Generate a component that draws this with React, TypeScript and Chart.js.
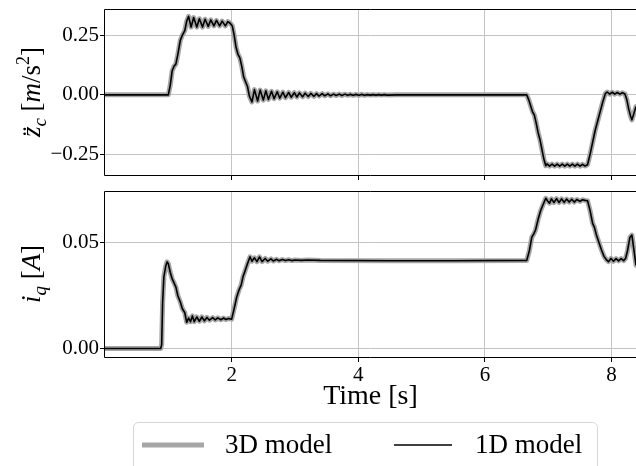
import React, { useEffect, useRef } from 'react';
import { Chart, registerables } from 'chart.js';

Chart.register(...registerables);

// ---------- data ----------
const seriesNames = ['3D model', '1D model'];

const xTicks = [2, 4, 6, 8];
const xTickLabels = ['2', '4', '6', '8'];
const xMin = 0;
const xMax = 8.385;

const zTicks = [-0.25, 0, 0.25];
const zTickLabels = ['\u22120.25', '0.00', '0.25'];
const zMin = -0.337;
const zMax = 0.361;

const iTicks = [0, 0.05];
const iTickLabels = ['0.00', '0.05'];
const iMin = -0.0038;
const iMax = 0.0742;

// top panel: vertical acceleration [m/s^2]
const tZ = [
  0.0, 0.5, 1.0, 1.03, 1.06, 1.09, 1.12, 1.15, 1.19, 1.22, 1.26, 1.29, 1.32,
  1.36, 1.4, 1.45, 1.49, 1.54, 1.58, 1.63, 1.67, 1.72, 1.76, 1.81, 1.85, 1.9, 1.94, 1.98,
  2.01, 2.04, 2.07, 2.1, 2.13, 2.16, 2.19, 2.22, 2.25, 2.28, 2.32,
  2.36, 2.41, 2.45, 2.5, 2.54, 2.58, 2.63, 2.67, 2.72, 2.76, 2.81, 2.85, 2.9, 2.94, 2.99,
  3.03, 3.07, 3.12, 3.16, 3.21, 3.25, 3.3, 3.34, 3.38, 3.43, 3.47, 3.52, 3.56, 3.61, 3.65,
  3.7, 3.74, 3.79, 3.83, 3.87, 3.92, 3.96, 4.01, 4.05, 4.1, 4.14, 4.19, 4.23, 4.28, 4.32,
  4.37, 4.41, 4.46, 4.6, 5.5, 6.66,
  6.69, 6.72, 6.75, 6.78, 6.81, 6.84, 6.87, 6.9, 6.93, 6.96, 6.98,
  7.02, 7.06, 7.1, 7.14, 7.18, 7.22, 7.26, 7.3, 7.34, 7.38, 7.42, 7.46, 7.5, 7.54, 7.58, 7.62,
  7.66, 7.7, 7.74, 7.78, 7.82, 7.86, 7.9, 7.93, 7.97, 8.01, 8.05, 8.09, 8.13, 8.17, 8.21,
  8.24, 8.27, 8.3, 8.32, 8.35, 8.385,
];
const zc3D = [
  0, 0, 0, 0.04, 0.1, 0.12, 0.13, 0.17, 0.23, 0.25, 0.27, 0.31, 0.33,
  0.285, 0.325, 0.285, 0.32, 0.285, 0.318, 0.288, 0.315, 0.29, 0.313, 0.29, 0.31, 0.29, 0.308, 0.3,
  0.29, 0.25, 0.2, 0.17, 0.155, 0.12, 0.075, 0.055, 0.035, -0.005, -0.03,
  0.022, -0.026, 0.02, -0.022, 0.017, -0.019, 0.015, -0.016, 0.013, -0.014, 0.011, -0.012, 0.01, -0.01, 0.009,
  -0.009, 0.008, -0.008, 0.007, -0.007, 0.006, -0.006, 0.005, -0.005, 0.005, -0.004, 0.004, -0.004, 0.003, -0.003,
  0.003, -0.003, 0.003, -0.002, 0.002, -0.002, 0.002, -0.002, 0.002, -0.002, 0.001, -0.001, 0.001, -0.001, 0.001,
  -0.001, 0.001, -0.001, 0, 0, 0,
  -0.02, -0.045, -0.07, -0.085, -0.12, -0.16, -0.19, -0.23, -0.27, -0.298, -0.29,
  -0.3, -0.291, -0.3, -0.291, -0.3, -0.291, -0.3, -0.291, -0.3, -0.291, -0.3, -0.291, -0.3, -0.292, -0.299, -0.294,
  -0.25, -0.2, -0.15, -0.11, -0.07, -0.03, 0.005, 0.012, 0.003, 0.011, 0.003, 0.01, 0.003, 0.009, 0.004,
  -0.02, -0.06, -0.09, -0.105, -0.08, -0.049,
];
const zc1D = [
  0, 0, 0, 0.04, 0.1, 0.12, 0.13, 0.17, 0.23, 0.25, 0.27, 0.31, 0.33,
  0.285, 0.325, 0.285, 0.32, 0.285, 0.318, 0.288, 0.315, 0.29, 0.313, 0.29, 0.31, 0.29, 0.308, 0.3,
  0.29, 0.25, 0.2, 0.17, 0.155, 0.12, 0.075, 0.055, 0.035, -0.005, -0.03,
  0.022, -0.026, 0.02, -0.022, 0.017, -0.019, 0.015, -0.016, 0.013, -0.014, 0.011, -0.012, 0.01, -0.01, 0.009,
  -0.009, 0.008, -0.008, 0.007, -0.007, 0.006, -0.006, 0.005, -0.005, 0.005, -0.004, 0.004, -0.004, 0.003, -0.003,
  0.003, -0.003, 0.003, -0.002, 0.002, -0.002, 0.002, -0.002, 0.002, -0.002, 0.001, -0.001, 0.001, -0.001, 0.001,
  -0.001, 0.001, -0.001, 0, 0, 0,
  -0.02, -0.045, -0.07, -0.085, -0.12, -0.16, -0.19, -0.23, -0.27, -0.298, -0.29,
  -0.3, -0.291, -0.3, -0.291, -0.3, -0.291, -0.3, -0.291, -0.3, -0.291, -0.3, -0.291, -0.3, -0.292, -0.299, -0.294,
  -0.25, -0.2, -0.15, -0.11, -0.07, -0.03, 0.005, 0.012, 0.003, 0.011, 0.003, 0.01, 0.003, 0.009, 0.004,
  -0.02, -0.06, -0.09, -0.105, -0.08, -0.049,
];

// bottom panel: q-axis current [A]
const tI = [
  0.0, 0.88, 0.895, 0.91, 0.93, 0.96, 0.98, 1.0, 1.03, 1.06, 1.09, 1.12, 1.15, 1.19, 1.22, 1.26, 1.29,
  1.32, 1.35, 1.38, 1.41, 1.45, 1.49, 1.53, 1.57, 1.61, 1.65, 1.7, 1.74, 1.78, 1.83, 1.87, 1.91, 1.95, 2.0,
  2.04, 2.08, 2.12, 2.15, 2.18, 2.21, 2.25, 2.29,
  2.32, 2.36, 2.4, 2.44, 2.48, 2.53, 2.57, 2.62, 2.66, 2.71, 2.75, 2.8, 2.85, 2.9, 2.95, 3.0, 3.1, 3.2, 3.4,
  4.5, 5.5, 6.66,
  6.7, 6.74, 6.77, 6.8, 6.84, 6.88, 6.92, 6.96,
  6.99, 7.02, 7.05, 7.09, 7.13, 7.17, 7.21, 7.25, 7.29, 7.33, 7.37, 7.41, 7.45, 7.5, 7.54, 7.58, 7.62,
  7.66, 7.7, 7.73, 7.76, 7.8, 7.84, 7.88, 7.92,
  7.95, 7.99, 8.03, 8.07, 8.11, 8.15, 8.19, 8.22, 8.25, 8.29, 8.32, 8.35, 8.385,
];
const iq3D = [
  0.0002, 0.0002, 0.002, 0.022, 0.034, 0.039, 0.0409, 0.04, 0.036, 0.033, 0.031, 0.029, 0.025, 0.022, 0.019, 0.017, 0.0125,
  0.0145, 0.0128, 0.0155, 0.0128, 0.015, 0.013, 0.015, 0.0132, 0.0148, 0.0135, 0.0147, 0.0136, 0.0146, 0.0137, 0.0145, 0.0138, 0.0143, 0.014,
  0.019, 0.0244, 0.028, 0.03, 0.034, 0.0365, 0.04, 0.0433,
  0.0412, 0.0428, 0.041, 0.0432, 0.041, 0.0425, 0.0412, 0.0423, 0.0413, 0.0421, 0.0414, 0.042, 0.0415, 0.0419, 0.0415, 0.0418, 0.0416, 0.0418, 0.0416,
  0.0414, 0.0414, 0.0416,
  0.046, 0.0525, 0.054, 0.056, 0.061, 0.065, 0.068, 0.0708,
  0.0695, 0.0685, 0.0705, 0.0688, 0.0706, 0.0688, 0.0705, 0.0689, 0.0704, 0.069, 0.0703, 0.069, 0.0702, 0.0693, 0.0701, 0.0698, 0.0696,
  0.065, 0.059, 0.057, 0.0535, 0.05, 0.0465, 0.0435, 0.0418,
  0.041, 0.0425, 0.0412, 0.0424, 0.0414, 0.0424, 0.0415, 0.0425, 0.046, 0.0525, 0.0535, 0.047, 0.0393,
];
const iq1D = [
  0.0002, 0.0002, 0.002, 0.022, 0.034, 0.039, 0.0409, 0.04, 0.036, 0.033, 0.031, 0.029, 0.025, 0.022, 0.019, 0.017, 0.0125,
  0.0145, 0.0128, 0.0155, 0.0128, 0.015, 0.013, 0.015, 0.0132, 0.0148, 0.0135, 0.0147, 0.0136, 0.0146, 0.0137, 0.0145, 0.0138, 0.0143, 0.014,
  0.019, 0.0244, 0.028, 0.03, 0.034, 0.0365, 0.04, 0.0433,
  0.0412, 0.0428, 0.041, 0.0432, 0.041, 0.0425, 0.0412, 0.0423, 0.0413, 0.0421, 0.0414, 0.042, 0.0415, 0.0419, 0.0415, 0.0418, 0.0416, 0.0418, 0.0416,
  0.0414, 0.0414, 0.0416,
  0.046, 0.0525, 0.054, 0.056, 0.061, 0.065, 0.068, 0.0708,
  0.0695, 0.0685, 0.0705, 0.0688, 0.0706, 0.0688, 0.0705, 0.0689, 0.0704, 0.069, 0.0703, 0.069, 0.0702, 0.0693, 0.0701, 0.0698, 0.0696,
  0.065, 0.059, 0.057, 0.0535, 0.05, 0.0465, 0.0435, 0.0418,
  0.041, 0.0425, 0.0412, 0.0424, 0.0414, 0.0424, 0.0415, 0.0425, 0.046, 0.0525, 0.0535, 0.047, 0.0393,
];

// ---------- styling ----------
const FONT = "'Liberation Serif', 'DejaVu Serif', serif";
const GRAY = '#a6a6a6';
const GRID = '#c4c4c4';

type Seg = { text: string; size: number; italic?: boolean; dy?: number };

const topLabel: Seg[] = [
  { text: 'z\u0308', size: 27, italic: true },
  { text: 'c', size: 19, italic: true, dy: 6 },
  { text: ' [', size: 27 },
  { text: 'm', size: 27, italic: true },
  { text: '/', size: 27 },
  { text: 's', size: 27 },
  { text: '2', size: 18, dy: -11 },
  { text: ']', size: 27 },
];
const bottomLabel: Seg[] = [
  { text: 'i', size: 27, italic: true },
  { text: 'q', size: 19, italic: true, dy: 6 },
  { text: ' [', size: 27 },
  { text: 'A', size: 27, italic: true },
  { text: ']', size: 27 },
];

function segFont(s: Seg) {
  return `${s.italic ? 'italic ' : ''}${s.size}px ${FONT}`;
}

function makeYLabelPlugin(segs: Seg[], baseX: number) {
  return {
    id: 'richYLabel',
    afterDraw(chart: any) {
      const ctx = chart.ctx;
      const area = chart.chartArea;
      const cy = (area.top + area.bottom) / 2;
      ctx.save();
      let total = 0;
      for (const s of segs) {
        ctx.font = segFont(s);
        total += ctx.measureText(s.text).width;
      }
      ctx.translate(baseX, cy);
      ctx.rotate(-Math.PI / 2);
      ctx.fillStyle = '#000';
      ctx.textBaseline = 'alphabetic';
      ctx.textAlign = 'left';
      let x = -total / 2;
      for (const s of segs) {
        ctx.font = segFont(s);
        ctx.fillText(s.text, x, s.dy || 0);
        x += ctx.measureText(s.text).width;
      }
      ctx.restore();
    },
  };
}

const framePlugin = {
  id: 'frame',
  afterDraw(chart: any) {
    const ctx = chart.ctx;
    const a = chart.chartArea;
    ctx.save();
    ctx.strokeStyle = '#000';
    ctx.lineWidth = 1;
    ctx.beginPath();
    ctx.moveTo(a.right + 2, a.top + 0.5);
    ctx.lineTo(a.left - 0.5, a.top + 0.5);
    ctx.lineTo(a.left - 0.5, a.bottom + 0.5);
    ctx.lineTo(a.right + 2, a.bottom + 0.5);
    ctx.stroke();
    ctx.restore();
  },
};

const legendPlugin = {
  id: 'boxLegend',
  afterDraw(chart: any) {
    const ctx = chart.ctx;
    const top = 237;
    const left = 133;
    const right = 597;
    const bottom = 300;
    const r = 5;
    ctx.save();
    ctx.beginPath();
    ctx.moveTo(left + r, top + 0.5);
    ctx.lineTo(right - r, top + 0.5);
    ctx.arcTo(right + 0.5, top + 0.5, right + 0.5, top + r, r);
    ctx.lineTo(right + 0.5, bottom);
    ctx.lineTo(left + 0.5, bottom);
    ctx.lineTo(left + 0.5, top + r);
    ctx.arcTo(left + 0.5, top + 0.5, left + r, top + 0.5, r);
    ctx.closePath();
    ctx.fillStyle = 'rgba(255,255,255,0.8)';
    ctx.fill();
    ctx.strokeStyle = '#d6d6d6';
    ctx.lineWidth = 1;
    ctx.stroke();

    const ds = chart.data.datasets;
    const items = [
      { x1: 142, x2: 204, tx: 225, d: ds[0] },
      { x1: 394, x2: 452, tx: 475, d: ds[1] },
    ];
    const ly = 260;
    for (const it of items) {
      ctx.beginPath();
      ctx.strokeStyle = it.d.borderColor;
      ctx.lineWidth = it.d.borderWidth;
      ctx.moveTo(it.x1, ly);
      ctx.lineTo(it.x2, ly);
      ctx.stroke();
      ctx.fillStyle = '#000';
      ctx.font = `27px ${FONT}`;
      ctx.textBaseline = 'middle';
      ctx.textAlign = 'left';
      ctx.fillText(it.d.label, it.tx, ly + 1);
    }
    ctx.restore();
  },
};

function pts(t: number[], v: number[]) {
  return t.map((x, i) => ({ x, y: v[i] }));
}

function makeDatasets(t: number[], a: number[], b: number[]) {
  return [
    {
      label: seriesNames[0],
      data: pts(t, a),
      borderColor: GRAY,
      borderWidth: 5,
      pointRadius: 0,
      tension: 0,
      borderJoinStyle: 'round',
      borderCapStyle: 'round',
      order: 1,
    },
    {
      label: seriesNames[1],
      data: pts(t, b),
      borderColor: '#000000',
      borderWidth: 1.6,
      pointRadius: 0,
      tension: 0,
      borderJoinStyle: 'round',
      order: 0,
    },
  ];
}

function zeroPad(s: any) {
  s.paddingTop = 0;
  s.paddingBottom = 0;
  s.paddingLeft = 0;
  s.paddingRight = 0;
}

function makeConfig(kind: 'top' | 'bottom'): any {
  const isTop = kind === 'top';
  const yT = isTop ? zTicks : iTicks;
  const yL = isTop ? zTickLabels : iTickLabels;
  return {
    type: 'line',
    data: {
      datasets: isTop ? makeDatasets(tZ, zc3D, zc1D) : makeDatasets(tI, iq3D, iq1D),
    },
    options: {
      responsive: false,
      animation: false,
      devicePixelRatio: 1,
      layout: { padding: { top: isTop ? 9 : 6, left: 0, right: 0, bottom: 0 } },
      plugins: { legend: { display: false }, tooltip: { enabled: false } },
      scales: {
        x: {
          type: 'linear',
          min: xMin,
          max: xMax,
          afterBuildTicks: (s: any) => {
            s.ticks = xTicks.map((v) => ({ value: v }));
          },
          afterFit: (s: any) => {
            s.height = isTop ? 10 : 113;
            zeroPad(s);
          },
          grid: { color: GRID, lineWidth: 1, tickColor: '#000', tickLength: 5, drawTicks: true },
          border: { display: false },
          ticks: {
            display: !isTop,
            color: '#000',
            font: { family: FONT, size: 21 },
            padding: 1,
            maxRotation: 0,
            autoSkip: false,
            callback: (v: number) => xTickLabels[xTicks.indexOf(v)],
          },
          title: {
            display: !isTop,
            text: 'Time [s]',
            color: '#000',
            font: { family: FONT, size: 28 },
            padding: { top: 0, bottom: 57 },
          },
        },
        y: {
          type: 'linear',
          min: isTop ? zMin : iMin,
          max: isTop ? zMax : iMax,
          afterBuildTicks: (s: any) => {
            s.ticks = yT.map((v) => ({ value: v }));
          },
          afterFit: (s: any) => {
            s.width = 105;
            zeroPad(s);
          },
          grid: { color: GRID, lineWidth: 1, tickColor: '#000', tickLength: 5 },
          border: { display: false },
          ticks: {
            color: '#000',
            font: { family: FONT, size: 21 },
            padding: 1,
            autoSkip: false,
            callback: (v: number) => yL[yT.indexOf(v)],
          },
        },
      },
    },
    plugins: isTop
      ? [framePlugin, makeYLabelPlugin(topLabel, 40)]
      : [framePlugin, makeYLabelPlugin(bottomLabel, 40), legendPlugin],
  };
}

export default function App() {
  const topRef = useRef<HTMLCanvasElement | null>(null);
  const botRef = useRef<HTMLCanvasElement | null>(null);

  useEffect(() => {
    Chart.defaults.font.family = FONT;
    const c1 = new Chart(topRef.current as HTMLCanvasElement, makeConfig('top'));
    const c2 = new Chart(botRef.current as HTMLCanvasElement, makeConfig('bottom'));
    return () => {
      c1.destroy();
      c2.destroy();
    };
  }, []);

  return (
    <div style={{ position: 'fixed', left: 0, top: 0, width: 636, height: 466, overflow: 'hidden', background: '#fff' }}>
      <canvas ref={topRef} width={636} height={185} style={{ position: 'absolute', left: 0, top: 0 }} />
      <canvas ref={botRef} width={636} height={285} style={{ position: 'absolute', left: 0, top: 185 }} />
    </div>
  );
}
